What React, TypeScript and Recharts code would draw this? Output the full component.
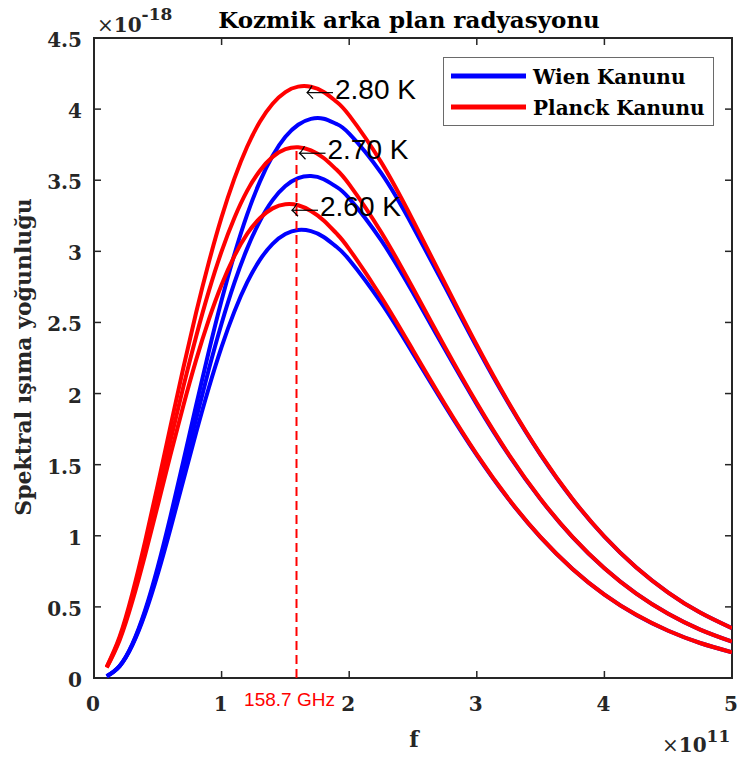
import React from 'react';
import { LineChart, Line, XAxis, YAxis, ReferenceArea, ReferenceLine, ReferenceDot, Legend } from 'recharts';

// frequency, in units of 1e11 Hz
const FREQ = [0.1, 0.2, 0.3, 0.4, 0.5, 0.6, 0.7, 0.8, 0.9, 1.0, 1.1, 1.2, 1.3, 1.4, 1.5, 1.6, 1.7, 1.8, 1.9, 2.0,
  2.25, 2.5, 2.75, 3.0, 3.25, 3.5, 3.75, 4.0, 4.25, 4.5, 4.75, 5.0];

// spectral radiance, in units of 1e-18
const WIEN_280 = [0.012, 0.084, 0.238, 0.475, 0.782, 1.139, 1.524, 1.916, 2.298, 2.656, 2.978, 3.258, 3.490, 3.672, 3.805, 3.890, 3.931, 3.932, 3.896, 3.828,
  3.551, 3.173, 2.752, 2.327, 1.928, 1.569, 1.257, 0.994, 0.777, 0.601, 0.460, 0.350];
const WIEN_270 = [0.012, 0.083, 0.234, 0.463, 0.758, 1.096, 1.457, 1.821, 2.171, 2.493, 2.778, 3.019, 3.213, 3.360, 3.459, 3.515, 3.529, 3.507, 3.453, 3.372,
  3.078, 2.708, 2.311, 1.924, 1.568, 1.256, 0.991, 0.771, 0.593, 0.451, 0.340, 0.255];
const WIEN_260 = [0.012, 0.082, 0.229, 0.451, 0.732, 1.052, 1.389, 1.724, 2.041, 2.328, 2.576, 2.781, 2.940, 3.053, 3.122, 3.150, 3.142, 3.101, 3.032, 2.941,
  2.639, 2.282, 1.915, 1.567, 1.256, 0.989, 0.767, 0.586, 0.443, 0.332, 0.246, 0.181];
const PLANCK_280 = [0.079, 0.288, 0.592, 0.958, 1.359, 1.773, 2.180, 2.568, 2.923, 3.240, 3.511, 3.735, 3.911, 4.038, 4.120, 4.158, 4.157, 4.120, 4.052, 3.956,
  3.627, 3.217, 2.776, 2.341, 1.935, 1.572, 1.259, 0.995, 0.777, 0.601, 0.460, 0.350];
const PLANCK_270 = [0.076, 0.276, 0.565, 0.911, 1.287, 1.672, 2.047, 2.400, 2.720, 3.000, 3.235, 3.425, 3.567, 3.664, 3.718, 3.732, 3.710, 3.656, 3.575, 3.471,
  3.136, 2.740, 2.328, 1.933, 1.573, 1.259, 0.992, 0.772, 0.593, 0.451, 0.340, 0.255];
const PLANCK_260 = [0.073, 0.264, 0.538, 0.864, 1.215, 1.571, 1.915, 2.235, 2.520, 2.765, 2.966, 3.122, 3.233, 3.302, 3.331, 3.324, 3.284, 3.217, 3.126, 3.016,
  2.681, 2.305, 1.927, 1.573, 1.259, 0.990, 0.767, 0.587, 0.444, 0.332, 0.246, 0.181];

const X_TICKS = [0, 1, 2, 3, 4, 5];
const Y_TICKS = [0, 0.5, 1, 1.5, 2, 2.5, 3, 3.5, 4, 4.5];

const PEAK_LABELS = ['2.80 K', '2.70 K', '2.60 K'];
const PEAK_F = [1.646, 1.587, 1.528];
const PEAK_B = [4.158, 3.732, 3.331];

const MARK_F = 1.587;
const MARK_B = 3.732;
const MARK_TEXT = '158.7 GHz';

const LEGEND_NAMES = ['Wien Kanunu', 'Planck Kanunu'];
const TITLE = 'Kozmik arka plan radyasyonu';
const Y_LABEL = 'Spektral ışıma yoğunluğu';
const X_LABEL = 'f';

const BLUE = '#0000FF';
const RED = '#FF0000';
const AXIS = '#262626';
const SERIF = "'DejaVu Serif', serif";
const SANS = "'Liberation Sans', Arial, sans-serif";

const W = 737;
const H = 760;
const MARGIN = { top: 38, right: 5, bottom: 0, left: 0 };
const Y_AXIS_W = 94;
const X_AXIS_H = 82;
const PLOT_TOP = MARGIN.top;
const PLOT_RIGHT = W - MARGIN.right;
const TICK = 7;

const data = FREQ.map((f, i) => ({
  f,
  w28: WIEN_280[i],
  w27: WIEN_270[i],
  w26: WIEN_260[i],
  p28: PLANCK_280[i],
  p27: PLANCK_270[i],
  p26: PLANCK_260[i],
}));

const XTick = (props: any) => {
  const { x, y, payload } = props;
  return (
    <g>
      <line x1={x} y1={y} x2={x} y2={y - TICK} stroke={AXIS} strokeWidth={1.5} />
      <line x1={x} y1={PLOT_TOP} x2={x} y2={PLOT_TOP + TICK} stroke={AXIS} strokeWidth={1.5} />
      <text x={x - 1} y={y + 33} textAnchor="middle" fontFamily={SERIF} fontWeight="bold" fontSize={20} fill={AXIS}>
        {String(payload.value)}
      </text>
    </g>
  );
};

const YTick = (props: any) => {
  const { x, y, payload } = props;
  return (
    <g>
      <line x1={x} y1={y} x2={x + TICK} y2={y} stroke={AXIS} strokeWidth={1.5} />
      <line x1={PLOT_RIGHT} y1={y} x2={PLOT_RIGHT - TICK} y2={y} stroke={AXIS} strokeWidth={1.5} />
      <text x={x - 12} y={y + 9} textAnchor="end" fontFamily={SERIF} fontWeight="bold" fontSize={20} fill={AXIS}>
        {String(payload.value)}
      </text>
    </g>
  );
};

const PeakNote = (props: any) => {
  const { cx, cy, text } = props;
  const tx = cx + 3;
  const ty = cy + 6;
  return (
    <g>
      <line x1={tx} y1={ty} x2={tx + 26} y2={ty} stroke="#000" strokeWidth={1.2} />
      <path
        d={`M ${tx + 5} ${ty - 7} Q ${tx + 2} ${ty - 1.5} ${tx} ${ty} Q ${tx + 2} ${ty + 1.5} ${tx + 6} ${ty + 6}`}
        fill="none"
        stroke="#000"
        strokeWidth={1.2}
      />
      <text x={cx + 31} y={cy + 12} fontFamily={SANS} fontSize={28} fill="#000">{text}</text>
    </g>
  );
};

const MarkText = (props: any) => {
  const { cx, cy } = props;
  return (
    <text x={cx - 7} y={cy + 28} textAnchor="middle" fontFamily={SANS} fontSize={19} fill={RED}>
      {MARK_TEXT}
    </text>
  );
};

const LegendBox = () => {
  const colors = [BLUE, RED];
  return (
    <svg width={271} height={69} style={{ display: 'block' }}>
      <rect x={0.5} y={0.5} width={270} height={68} fill="#fff" stroke="#6a6a6a" strokeWidth={1} />
      {LEGEND_NAMES.map((n, i) => (
        <g key={n}>
          <line x1={8} y1={19 + i * 31} x2={83} y2={19 + i * 31} stroke={colors[i]} strokeWidth={5} />
          <text x={90} y={27 + i * 31} fontFamily={SERIF} fontWeight="bold" fontSize={20} fill="#000">{n}</text>
        </g>
      ))}
    </svg>
  );
};

export default function App() {
  return (
    <div style={{ position: 'relative', width: W, height: H }}>
      <style>{`body{margin:0}`}</style>
      <LineChart width={W} height={H} data={data} margin={MARGIN}>
        <XAxis
          dataKey="f"
          type="number"
          domain={[0, 5]}
          ticks={X_TICKS}
          interval={0}
          height={X_AXIS_H}
          tickSize={0}
          tickMargin={0}
          tickLine={false}
          axisLine={false}
          tick={<XTick />}
          allowDataOverflow
        />
        <YAxis
          type="number"
          domain={[0, 4.5]}
          ticks={Y_TICKS}
          interval={0}
          width={Y_AXIS_W}
          tickSize={0}
          tickMargin={0}
          tickLine={false}
          axisLine={false}
          tick={<YTick />}
          allowDataOverflow
        />
        <Legend
          layout="vertical"
          align="center"
          verticalAlign="middle"
          content={() => <LegendBox />}
          wrapperStyle={{ left: 443, top: 57, width: 271, height: 69, right: 'auto', bottom: 'auto' }}
        />
        <ReferenceArea x1={0} x2={5} y1={0} y2={4.5} fill="none" stroke={AXIS} strokeWidth={2} ifOverflow="visible" />
        <Line dataKey="w28" name="Wien 2.80 K" type="natural" stroke={BLUE} strokeWidth={4} dot={false} activeDot={false} isAnimationActive={false} />
        <Line dataKey="w27" name="Wien 2.70 K" type="natural" stroke={BLUE} strokeWidth={4} dot={false} activeDot={false} isAnimationActive={false} />
        <Line dataKey="w26" name="Wien 2.60 K" type="natural" stroke={BLUE} strokeWidth={4} dot={false} activeDot={false} isAnimationActive={false} />
        <Line dataKey="p28" name="Planck 2.80 K" type="natural" stroke={RED} strokeWidth={4} dot={false} activeDot={false} isAnimationActive={false} />
        <Line dataKey="p27" name="Planck 2.70 K" type="natural" stroke={RED} strokeWidth={4} dot={false} activeDot={false} isAnimationActive={false} />
        <Line dataKey="p26" name="Planck 2.60 K" type="natural" stroke={RED} strokeWidth={4} dot={false} activeDot={false} isAnimationActive={false} />
        <ReferenceLine
          segment={[{ x: MARK_F, y: 0 }, { x: MARK_F, y: MARK_B }]}
          stroke={RED}
          strokeWidth={2}
          strokeDasharray="9 5"
          ifOverflow="visible"
        />
        <ReferenceDot x={MARK_F} y={0} ifOverflow="visible" shape={(p: any) => <MarkText cx={p.cx} cy={p.cy} />} />
        {PEAK_LABELS.map((t, i) => (
          <ReferenceDot
            key={t}
            x={PEAK_F[i]}
            y={PEAK_B[i]}
            ifOverflow="visible"
            shape={(p: any) => <PeakNote cx={p.cx} cy={p.cy} text={t} />}
          />
        ))}
      </LineChart>
      <svg width={W} height={H} style={{ position: 'absolute', left: 0, top: 0, pointerEvents: 'none' }}>
        <text x={409} y={28} textAnchor="middle" fontFamily={SERIF} fontWeight="bold" fontSize={23} fill="#000">{TITLE}</text>
        <text
          x={31}
          y={357}
          transform="rotate(-90 31 357)"
          textAnchor="middle"
          fontFamily={SERIF}
          fontWeight="bold"
          fontSize={22}
          fill={AXIS}
        >
          {Y_LABEL}
        </text>
        <text x={414} y={747} textAnchor="middle" fontFamily={SERIF} fontWeight="bold" fontSize={22} fill={AXIS}>{X_LABEL}</text>
        <text x={97} y={32} fontFamily={SERIF} fontSize={20} fill={AXIS}>
          <tspan>×</tspan>
          <tspan fontWeight="bold">10</tspan>
          <tspan fontWeight="bold" fontSize={17} dy={-12}>-18</tspan>
        </text>
        <text x={662} y={752} fontFamily={SERIF} fontSize={20} fill={AXIS}>
          <tspan>×</tspan>
          <tspan fontWeight="bold">10</tspan>
          <tspan fontWeight="bold" fontSize={17} dy={-10}>11</tspan>
        </text>
      </svg>
    </div>
  );
}
